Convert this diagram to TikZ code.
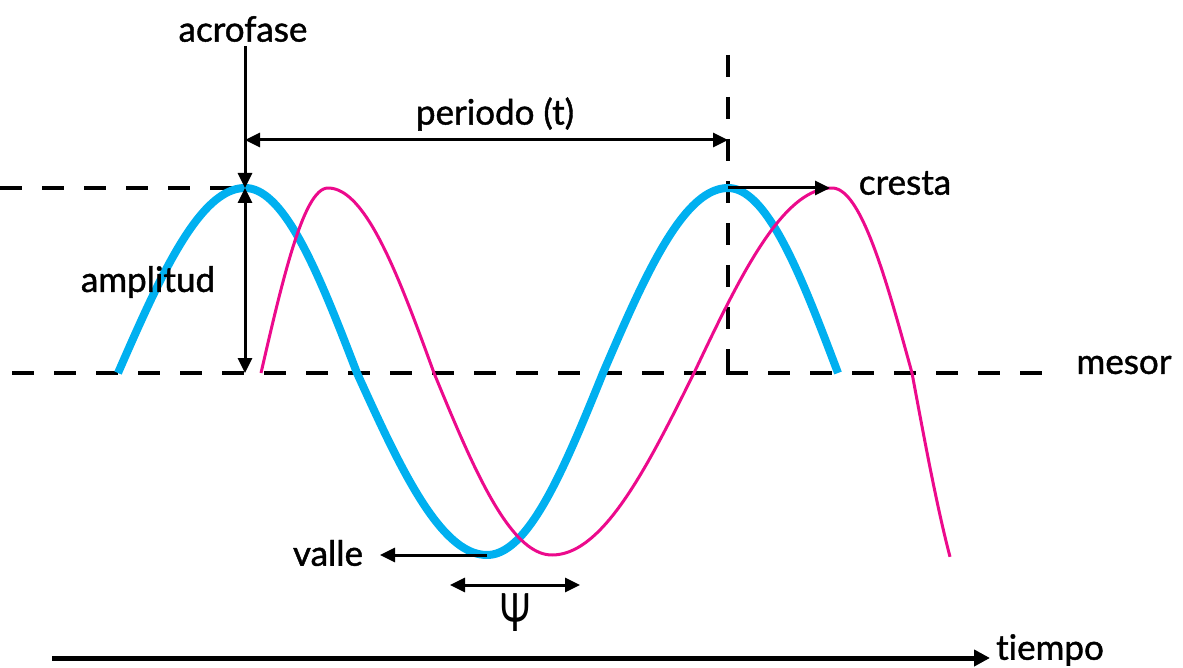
\documentclass[tikz,border=0pt]{standalone}
\usepackage{fontspec}
\setmainfont{Lato}[Ligatures={NoCommon,NoRare},FakeBold=1.2]
\newfontfamily\psifont{Lato}
\usetikzlibrary{arrows.meta}
\definecolor{cyanb}{RGB}{0,176,240}
\definecolor{pinkc}{RGB}{236,10,140}
\tikzset{
  lbl/.style={font=\fontsize{35}{40}\selectfont, inner sep=0pt},
  dashl/.style={line width=3.5pt, dash pattern=on 22pt off 20pt},
  arr/.style={line width=3pt, -{Triangle[length=15pt,width=14pt]}},
  darr/.style={line width=3pt, {Triangle[length=15pt,width=14pt]}-{Triangle[length=15pt,width=14pt]}},
  bluec/.style={cyanb, line width=8pt, line join=round},
  pinkl/.style={pinkc, line width=3pt, line join=round},
}
\begin{document}
\begin{tikzpicture}[x=1pt,y=-1pt]
\useasboundingbox (0,0) rectangle (1183,668);
% coordinates
\coordinate (topL) at (0,188);
\coordinate (peak1) at (245,188);
\coordinate (mes1) at (245,373);
\coordinate (peak2) at (728,188);
\coordinate (per1) at (245,140);
\coordinate (per2) at (728,140);
\coordinate (crestEnd) at (830,188);
\coordinate (trough) at (487,555);
\coordinate (valleEnd) at (380,555);
\coordinate (psiL) at (450,585);
\coordinate (psiR) at (580,585);
\coordinate (axisL) at (52,658);
\coordinate (axisR) at (990,658);
\coordinate (vTop) at (728,55);
\coordinate (vBot) at (728,378);
\coordinate (mesL) at (12,373);
\coordinate (mesR) at (1058,373);
\coordinate (acroTop) at (245,46);
% dashed guides
\draw[dashl] (topL) -- (peak1);
\draw[dashl] (mesL) -- (mesR);
\draw[dashl] (vTop) -- (vBot);
% blue curve
\draw[bluec]
  plot[domain=118:245,samples=40] (\x,{373-185*sin((\x-118)/127*90)})
  -- plot[domain=245:357,samples=40] (\x,{373-185*cos((\x-245)/112*90)})
  -- plot[domain=357:487,samples=40] (\x,{373+182*sin((\x-357)/130*90)})
  -- plot[domain=487:603,samples=40] (\x,{373+182*cos((\x-487)/116*90)})
  -- plot[domain=603:728,samples=40] (\x,{373-185*sin((\x-603)/125*90)})
  -- plot[domain=728:838,samples=40] (\x,{373-185*cos((\x-728)/110*90)});
% pink curve
\draw[pinkl]
  plot[domain=261:328,samples=30] (\x,{373-185*sin((\x-261)/67*90)})
  -- plot[domain=328:434,samples=40] (\x,{373-185*cos((\x-328)/106*90)})
  -- plot[domain=434:552,samples=40] (\x,{373+182*sin((\x-434)/118*90)})
  -- plot[domain=552:694,samples=40] (\x,{373+182*cos((\x-552)/142*90)})
  -- plot[domain=694:832,samples=40] (\x,{373-185*sin((\x-694)/138*90)})
  -- plot[domain=832:912,samples=40] (\x,{373-185*cos((\x-832)/80*90)})
  -- plot[domain=912:950,samples=20] (\x,{373+260*sin((\x-912)/76*90)});
% labels
\node[lbl] (acro) at (243,29) {acrofase};
\node[lbl] (per) at (495,114) {periodo (t)};
\node[lbl] (amp) at (148,282) {amplitud};
\node[lbl] (cres) at (905,183) {cresta};
\node[lbl] (mesor) at (1124,365) {mesor};
\node[lbl] (valle) at (328,553) {valle};
\node[lbl, font=\fontsize{46}{50}\psifont] (psi) at (516,613) {\scalebox{0.8}[1.15]{Ψ}};
\node[lbl] (tiempo) at (1050,650) {tiempo};
% arrows
\draw[arr] (acroTop) -- (peak1);
\draw[darr] (per1) -- (per2);
\draw[darr] (peak1) -- (mes1);
\draw[arr] (peak2) -- (crestEnd);
\draw[arr] (trough) -- (valleEnd);
\draw[darr] (psiL) -- (psiR);
\draw[line width=5pt, -{Triangle[length=16pt,width=16pt]}] (axisL) -- (axisR);
\end{tikzpicture}
\end{document}
